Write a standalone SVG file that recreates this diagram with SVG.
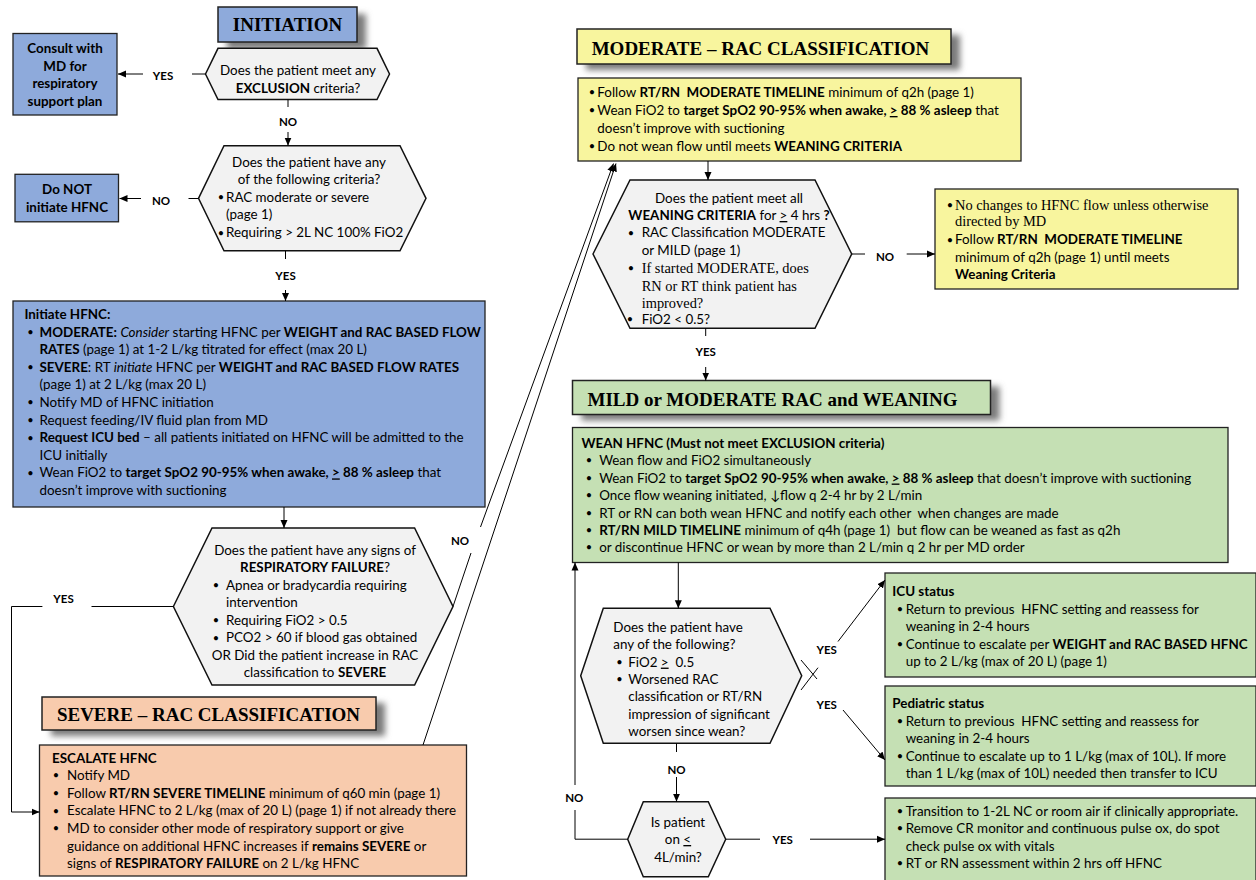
<svg xmlns="http://www.w3.org/2000/svg" width="1256" height="880" viewBox="0 0 1256 880">
<defs>
<style>
.t{font-family:Lato,"Liberation Sans",sans-serif;font-size:13.4px;fill:#000}
.bu{font-family:Lato,"Liberation Sans",sans-serif;font-size:11px;text-anchor:middle;fill:#000}
.b{font-weight:700}
.i{font-style:italic}
.c{text-anchor:middle}
.u{text-decoration:underline}
.s{font-family:"Liberation Serif","Times New Roman",serif;font-size:14.4px;fill:#000}
.h{font-family:"Liberation Serif","Times New Roman",serif;font-weight:700;font-size:19px;text-anchor:middle;fill:#000}
.lb{font-family:Lato,"Liberation Sans",sans-serif;font-weight:700;font-size:11.5px;text-anchor:middle;fill:#000}
.blue{fill:#8EAADB;stroke:#222;stroke-width:1.3}
.gray{fill:#F2F2F2;stroke:#111;stroke-width:1.5}
.yel{fill:#F8F59E;stroke:#222;stroke-width:1.3}
.grn{fill:#C5E0B4;stroke:#222;stroke-width:1.3}
.pch{fill:#F8CBAD;stroke:#222;stroke-width:1.3}
.shd{fill:#7a7a7a;filter:url(#sh)}
.ln{fill:none;stroke:#000;stroke-width:1}
</style>
<filter id="sh" x="-20%" y="-60%" width="140%" height="220%"><feGaussianBlur stdDeviation="3"/></filter>
<marker id="ar" viewBox="0 0 8 8" refX="8" refY="4" markerWidth="8" markerHeight="8" markerUnits="userSpaceOnUse" orient="auto"><path d="M0,0.5 L8,4 L0,7.5 z" fill="#000"/></marker>
</defs>
<rect width="1256" height="880" fill="#fff"/>

<g id="initiation-header">
<rect class="shd" x="227" y="14" width="139" height="35"/>
<rect class="blue" x="218" y="7" width="139" height="35" style="stroke-width:1.5"/>
<text class="h" x="287.5" y="31">INITIATION</text>
</g>

<g id="consult-md">
<rect class="blue" x="13" y="33.5" width="104" height="81.5"/>
<text class="t b c" x="65" y="52.5">Consult with</text>
<text class="t b c" x="65" y="70.5">MD for</text>
<text class="t b c" x="65" y="88">respiratory</text>
<text class="t b c" x="65" y="105.5">support plan</text>
</g>

<g id="exclusion-decision">
<polygon class="gray" points="205.5,74 218,48.3 377,48.3 389.5,74 377,99.5 218,99.5"/>
<text class="t c" x="298" y="75">Does the patient meet any</text>
<text class="t c" x="298" y="92.7"><tspan class="b">EXCLUSION</tspan> criteria?</text>
</g>

<g id="criteria-decision">
<polygon class="gray" points="198.5,198.3 224,145.7 400,145.7 426,198.3 400,250.8 224,250.8"/>
<text class="t c" x="309" y="166.5">Does the patient have any</text>
<text class="t c" x="309" y="184">of the following criteria?</text>
<text class="bu" x="221" y="201">•</text><text class="t" x="226" y="201.5">RAC moderate or severe</text>
<text class="t" x="226" y="219.2">(page 1)</text>
<text class="bu" x="221" y="236.5">•</text><text class="t" x="226" y="237">Requiring &gt; 2L NC 100% FiO2</text>
</g>

<g id="do-not-initiate">
<rect class="blue" x="15" y="174.3" width="103.5" height="47.5"/>
<text class="t b c" x="67" y="194">Do NOT</text>
<text class="t b c" x="67" y="212">initiate HFNC</text>
</g>

<g id="initiate-hfnc">
<rect class="blue" x="13" y="301" width="472" height="206"/>
<text class="t b" x="24.4" y="319">Initiate HFNC:</text>
<text class="bu" x="30.5" y="336">•</text><text class="t" x="39.5" y="336.6"><tspan class="b">MODERATE:</tspan> <tspan class="i">Consider</tspan> starting HFNC per <tspan class="b">WEIGHT and RAC BASED FLOW</tspan></text>
<text class="t" x="39.5" y="354.2"><tspan class="b">RATES</tspan> (page 1) at 1-2 L/kg titrated for effect (max 20 L)</text>
<text class="bu" x="30.5" y="371.2">•</text><text class="t" x="39.5" y="371.8"><tspan class="b">SEVERE</tspan>: RT <tspan class="i">initiate</tspan> HFNC per <tspan class="b">WEIGHT and RAC BASED FLOW RATES</tspan></text>
<text class="t" x="39.5" y="389.4">(page 1) at 2 L/kg (max 20 L)</text>
<text class="bu" x="30.5" y="406.4">•</text><text class="t" x="39.5" y="407">Notify MD of HFNC initiation</text>
<text class="bu" x="30.5" y="424">•</text><text class="t" x="39.5" y="424.6">Request feeding/IV fluid plan from MD</text>
<text class="bu" x="30.5" y="441.6">•</text><text class="t" x="39.5" y="442.2"><tspan class="b">Request ICU bed</tspan> – all patients initiated on HFNC will be admitted to the</text>
<text class="t" x="39.5" y="459.8">ICU initially</text>
<text class="bu" x="30.5" y="476.8">•</text><text class="t" x="39.5" y="477.4">Wean FiO2 to <tspan class="b">target SpO2 90-95% when awake, <tspan class="u">&gt;</tspan> 88 % asleep</tspan> that</text>
<text class="t" x="39.5" y="495">doesn’t improve with suctioning</text>
</g>

<g id="respiratory-failure-decision">
<polygon class="gray" points="173.4,606.5 212,528 414.6,528 453,606.5 414.6,685 212,685"/>
<text class="t c" x="315" y="554.5">Does the patient have any signs of</text>
<text class="t c" x="315" y="572"><tspan class="b">RESPIRATORY FAILURE</tspan>?</text>
<text class="bu" x="216" y="589">•</text><text class="t" x="226" y="589.5">Apnea or bradycardia requiring</text>
<text class="t" x="226" y="607">intervention</text>
<text class="bu" x="216" y="624">•</text><text class="t" x="226" y="624.5">Requiring FiO2 &gt; 0.5</text>
<text class="bu" x="216" y="641.5">•</text><text class="t" x="226" y="642">PCO2 &gt; 60 if blood gas obtained</text>
<text class="t c" x="315" y="659.5">OR Did the patient increase in RAC</text>
<text class="t c" x="315" y="677">classification to <tspan class="b">SEVERE</tspan></text>
</g>

<g id="severe-header">
<rect class="shd" x="51" y="703" width="334" height="33"/>
<rect class="pch" x="42" y="697" width="334" height="33" style="stroke-width:1.5"/>
<text class="h" x="208.5" y="720.5">SEVERE – RAC CLASSIFICATION</text>
</g>

<g id="escalate-hfnc">
<rect class="pch" x="39.5" y="745" width="427" height="131"/>
<text class="t b" x="52" y="762.5">ESCALATE HFNC</text>
<text class="bu" x="56" y="779.4">•</text><text class="t" x="67" y="780">Notify MD</text>
<text class="bu" x="56" y="797.1">•</text><text class="t" x="67" y="797.7">Follow <tspan class="b">RT/RN SEVERE TIMELINE</tspan> minimum of q60 min (page 1)</text>
<text class="bu" x="56" y="814.7">•</text><text class="t" x="67" y="815.3">Escalate HFNC to 2 L/kg (max of 20 L) (page 1) if not already there</text>
<text class="bu" x="56" y="832.4">•</text><text class="t" x="67" y="833">MD to consider other mode of respiratory support or give</text>
<text class="t" x="67" y="850.5">guidance on additional HFNC increases if <tspan class="b">remains SEVERE</tspan> or</text>
<text class="t" x="67" y="868">signs of <tspan class="b">RESPIRATORY FAILURE</tspan> on 2 L/kg HFNC</text>
</g>

<g id="moderate-header">
<rect class="shd" x="586" y="35" width="374" height="35"/>
<rect class="yel" x="577" y="29" width="374" height="35" style="stroke-width:1.5"/>
<text class="h" x="760.5" y="54.5">MODERATE – RAC CLASSIFICATION</text>
</g>

<g id="moderate-actions">
<rect class="yel" x="578" y="78" width="443" height="83"/>
<text class="bu" x="592" y="96.4">•</text><text class="t" x="597.3" y="97" xml:space="preserve">Follow <tspan class="b">RT/RN  MODERATE TIMELINE</tspan> minimum of q2h (page 1)</text>
<text class="bu" x="592" y="114.4">•</text><text class="t" x="597.3" y="115">Wean FiO2 to <tspan class="b">target SpO2 90-95% when awake, <tspan class="u">&gt;</tspan> 88 % asleep</tspan> that</text>
<text class="t" x="597.3" y="133">doesn’t improve with suctioning</text>
<text class="bu" x="592" y="150.4">•</text><text class="t" x="597.3" y="151">Do not wean flow until meets <tspan class="b">WEANING CRITERIA</tspan></text>
</g>

<g id="weaning-criteria-decision">
<polygon class="gray" points="593,254 630,180 815,180 851.7,254 815,328.3 630,328.3"/>
<text class="t c" x="729" y="202.7">Does the patient meet all</text>
<text class="t c" x="729" y="220"><tspan class="b">WEANING CRITERIA</tspan> for <tspan class="u">&gt;</tspan> 4 hrs <tspan class="b">?</tspan></text>
<text class="bu" x="631" y="236.7">•</text><text class="t" x="641.7" y="237.3">RAC Classification MODERATE</text>
<text class="t" x="641.7" y="255">or MILD (page 1)</text>
<text class="bu" x="631" y="272.4">•</text><text class="s" x="641.7" y="273">If started MODERATE, does</text>
<text class="s" x="641.7" y="291">RN or RT think patient has</text>
<text class="s" x="641.7" y="307.5">improved?</text>
<text class="bu" x="630" y="323.4">•</text><text class="t" x="641.7" y="324">FiO2 &lt; 0.5?</text>
</g>

<g id="no-changes">
<rect class="yel" x="935" y="189" width="303" height="100"/>
<text class="bu" x="950" y="208.9">•</text><text class="s" x="955" y="209.5">No changes to HFNC flow unless otherwise</text>
<text class="s" x="955" y="225.5">directed by MD</text>
<text class="bu" x="950" y="243.7">•</text><text class="t" x="955" y="244.3" xml:space="preserve">Follow <tspan class="b">RT/RN  MODERATE TIMELINE</tspan></text>
<text class="t" x="955" y="261.7">minimum of q2h (page 1) until meets</text>
<text class="t b" x="955" y="279.3">Weaning Criteria</text>
</g>

<g id="mild-header">
<rect class="shd" x="581.5" y="386.5" width="418" height="34"/>
<rect class="grn" x="572.5" y="380.5" width="418" height="34" style="stroke-width:1.5"/>
<text class="h" x="772.5" y="406.3">MILD or MODERATE RAC and WEANING</text>
</g>

<g id="wean-hfnc">
<rect class="grn" x="572.5" y="427.5" width="655.5" height="135"/>
<text class="t b" x="581.4" y="447.5">WEAN HFNC (Must not meet EXCLUSION criteria)</text>
<text class="bu" x="589" y="464.4">•</text><text class="t" x="599.2" y="465">Wean flow and FiO2 simultaneously</text>
<text class="bu" x="589" y="481.9">•</text><text class="t" x="599.2" y="482.5">Wean FiO2 to <tspan class="b">target SpO2 90-95% when awake, <tspan class="u">&gt;</tspan> 88 % asleep</tspan> that doesn’t improve with suctioning</text>
<text class="bu" x="589" y="499.4">•</text><text class="t" x="599.2" y="500">Once flow weaning initiated, ↓flow q 2-4 hr by 2 L/min</text>
<text class="bu" x="589" y="516.9">•</text><text class="t" x="599.2" y="517.5" xml:space="preserve">RT or RN can both wean HFNC and notify each other  when changes are made</text>
<text class="bu" x="589" y="534.4">•</text><text class="t" x="599.2" y="535" xml:space="preserve"><tspan class="b">RT/RN MILD TIMELINE</tspan> minimum of q4h (page 1)  but flow can be weaned as fast as q2h</text>
<text class="bu" x="589" y="551.4">•</text><text class="t" x="599.2" y="552">or discontinue HFNC or wean by more than 2 L/min q 2 hr per MD order</text>
</g>

<g id="worsening-decision">
<polygon class="gray" points="580.7,675.8 603.3,608.3 770,608.3 801.7,675.8 770,743.3 603.3,743.3"/>
<text class="t" x="613.3" y="632">Does the patient have</text>
<text class="t" x="613.3" y="649.3">any of the following?</text>
<text class="bu" x="619.5" y="666">•</text><text class="t" x="628.3" y="666.6" xml:space="preserve">FiO2 <tspan class="u">&gt;</tspan>  0.5</text>
<text class="bu" x="619.5" y="683.4">•</text><text class="t" x="628.3" y="684">Worsened RAC</text>
<text class="t" x="628.3" y="701.2">classification or RT/RN</text>
<text class="t" x="628.3" y="718.5">impression of significant</text>
<text class="t" x="628.3" y="735.8">worsen since wean?</text>
</g>

<g id="flow-decision">
<polygon class="gray" points="627.7,839.2 643.3,801.7 708.3,801.7 725.7,839.2 708.3,876.7 643.3,876.7"/>
<text class="t c" x="678" y="826.5">Is patient</text>
<text class="t c" x="678" y="844">on <tspan class="u">&lt;</tspan></text>
<text class="t c" x="678" y="861.5">4L/min?</text>
</g>

<g id="icu-status">
<rect class="grn" x="885" y="573" width="371" height="104"/>
<text class="t b" x="892.3" y="596">ICU status</text>
<text class="bu" x="900" y="612.9">•</text><text class="t" x="905.7" y="613.5" xml:space="preserve">Return to previous  HFNC setting and reassess for</text>
<text class="t" x="905.7" y="631">weaning in 2-4 hours</text>
<text class="bu" x="900" y="647.9">•</text><text class="t" x="905.7" y="648.5">Continue to escalate per <tspan class="b">WEIGHT and RAC BASED HFNC</tspan></text>
<text class="t" x="905.7" y="666">up to 2 L/kg (max of 20 L) (page 1)</text>
</g>

<g id="pediatric-status">
<rect class="grn" x="885" y="686" width="371" height="100"/>
<text class="t b" x="892.3" y="708">Pediatric status</text>
<text class="bu" x="900" y="724.9">•</text><text class="t" x="905.7" y="725.5" xml:space="preserve">Return to previous  HFNC setting and reassess for</text>
<text class="t" x="905.7" y="743">weaning in 2-4 hours</text>
<text class="bu" x="900" y="759.9">•</text><text class="t" x="905.7" y="760.5">Continue to escalate up to 1 L/kg (max of 10L). If more</text>
<text class="t" x="905.7" y="778">than 1 L/kg (max of 10L) needed then transfer to ICU</text>
</g>

<g id="transition">
<rect class="grn" x="885" y="798" width="371" height="90"/>
<text class="bu" x="900" y="814.9">•</text><text class="t" x="905.7" y="815.5">Transition to 1-2L NC or room air if clinically appropriate.</text>
<text class="bu" x="900" y="832.4">•</text><text class="t" x="905.7" y="833">Remove CR monitor and continuous pulse ox, do spot</text>
<text class="t" x="905.7" y="850.5">check pulse ox with vitals</text>
<text class="bu" x="900" y="867.4">•</text><text class="t" x="905.7" y="868">RT or RN assessment within 2 hrs off HFNC</text>
</g>

<g id="connectors">
<line class="ln" x1="205.5" y1="74" x2="192" y2="74"/>
<line class="ln" x1="143" y1="74" x2="118" y2="74" marker-end="url(#ar)"/>
<text class="lb" x="163" y="79.5">YES</text>

<line class="ln" x1="288" y1="99.5" x2="288" y2="107"/>
<line class="ln" x1="288" y1="132" x2="288" y2="145.5" marker-end="url(#ar)"/>
<text class="lb" x="288" y="126">NO</text>

<line class="ln" x1="198.5" y1="198.5" x2="188.5" y2="198.5"/>
<line class="ln" x1="141" y1="198.5" x2="119.5" y2="198.5" marker-end="url(#ar)"/>
<text class="lb" x="161" y="205">NO</text>

<line class="ln" x1="285.5" y1="251" x2="285.5" y2="259"/>
<line class="ln" x1="285.5" y1="290" x2="285.5" y2="301" marker-end="url(#ar)"/>
<text class="lb" x="285.5" y="279.5">YES</text>

<line class="ln" x1="284" y1="507" x2="284" y2="528" marker-end="url(#ar)"/>

<line class="ln" x1="173.4" y1="606.5" x2="91.5" y2="606.5"/>
<polyline class="ln" points="42.4,606.5 11.5,606.5 11.5,812 39.5,812" marker-end="url(#ar)"/>
<text class="lb" x="63.5" y="603">YES</text>

<line class="ln" x1="453" y1="606.5" x2="471" y2="553"/>
<line class="ln" x1="480.5" y1="527" x2="613.5" y2="163.5" marker-end="url(#ar)"/>
<line class="ln" x1="423" y1="745" x2="616" y2="163.5" marker-end="url(#ar)"/>
<text class="lb" x="460" y="545">NO</text>

<line class="ln" x1="708" y1="161" x2="708" y2="180" marker-end="url(#ar)"/>

<line class="ln" x1="851.7" y1="254" x2="865" y2="254"/>
<line class="ln" x1="906.7" y1="254" x2="935" y2="254" marker-end="url(#ar)"/>
<text class="lb" x="885" y="261">NO</text>

<line class="ln" x1="705.7" y1="328.3" x2="705.7" y2="336"/>
<line class="ln" x1="705.7" y1="367" x2="705.7" y2="380.5" marker-end="url(#ar)"/>
<text class="lb" x="705.7" y="355.5">YES</text>

<line class="ln" x1="678.3" y1="562.5" x2="678.3" y2="608.3" marker-end="url(#ar)"/>

<line class="ln" x1="801" y1="690" x2="818" y2="667.7"/>
<line class="ln" x1="838" y1="641.5" x2="885" y2="580" marker-end="url(#ar)"/>
<text class="lb" x="826.7" y="653.5">YES</text>
<line class="ln" x1="801" y1="660" x2="817" y2="679"/>
<line class="ln" x1="843" y1="710" x2="885" y2="760" marker-end="url(#ar)"/>
<text class="lb" x="826.7" y="708.5">YES</text>

<line class="ln" x1="676.5" y1="743.3" x2="676.5" y2="752"/>
<line class="ln" x1="676.5" y1="777" x2="676.5" y2="801.7" marker-end="url(#ar)"/>
<text class="lb" x="676.5" y="773.5">NO</text>

<polyline class="ln" points="627.7,839.2 575,839.2 575,810"/>
<line class="ln" x1="575" y1="785" x2="575" y2="562.5" marker-end="url(#ar)"/>
<text class="lb" x="574.3" y="801.5">NO</text>

<line class="ln" x1="725.7" y1="839.2" x2="760" y2="839.2"/>
<line class="ln" x1="810" y1="839.2" x2="885" y2="839.2" marker-end="url(#ar)"/>
<text class="lb" x="782.7" y="844">YES</text>
</g>
</svg>
